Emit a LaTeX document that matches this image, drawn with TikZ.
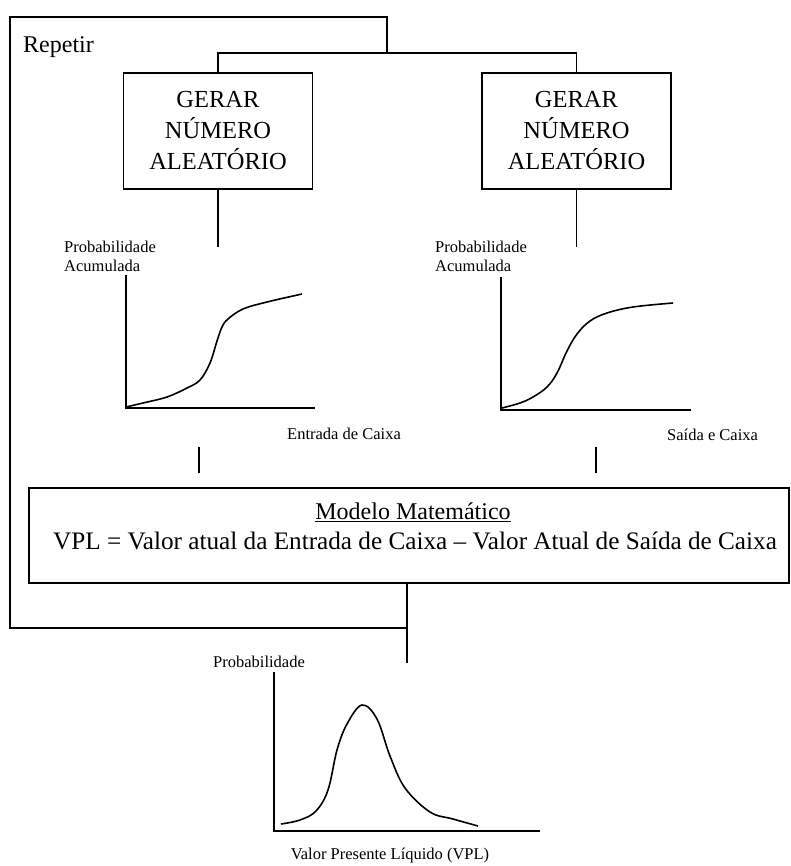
\documentclass[tikz,border=0pt]{standalone}
\usepackage{fontspec}
\setmainfont{Liberation Serif}
\usetikzlibrary{calc}
\tikzset{
  every picture/.append style={line join=miter},
  ln/.style={line width=1.2pt, draw=black},
  crv/.style={line width=1.6pt, draw=black, smooth, tension=0.6},
  gen/.style={rectangle, draw=black, line width=1.2pt, align=center,
              minimum width=189pt, minimum height=116pt, inner sep=0pt,
              font=\fontsize{24.5}{31}\selectfont},
  mbox/.style={rectangle, draw=black, line width=1.2pt,
               minimum width=760pt, minimum height=95pt, inner sep=0pt},
  big/.style={font=\fontsize{24}{28}\selectfont, align=center, inner sep=0pt},
  lbl/.style={font=\fontsize{16.5}{19}\selectfont, align=left, inner sep=0pt},
}
\begin{document}
\begin{tikzpicture}[x=1pt,y=-1pt]
\useasboundingbox (0,0) rectangle (791,866);

% ---------------- random number generators ----------------
\node[gen] (gen1) at (218,131) {GERAR\\NÚMERO\\ALEATÓRIO};
\node[gen] (gen2) at (576.5,131) {GERAR\\NÚMERO\\ALEATÓRIO};
\node[big, anchor=west] (rep) at (23,47) {Repetir};

% ---------------- cumulative distributions ----------------
\coordinate (in1) at (218,247);
\coordinate (in2) at (576.5,247);
\draw[ln] (gen1.south) -- (in1);
\draw[ln] (gen2.south) -- (in2);

\coordinate (o1) at (126,408);
\draw[ln] (126,275) -- (o1) -- (315,408);
\node[lbl, anchor=north west] (p1) at (64,241) {Probabilidade\\Acumulada};
\draw[crv] plot coordinates {(126,407) (143,403) (167,397) (187,388) (200,380)
  (210,363) (217,341) (222,327) (228,319) (243,309) (267,302) (302,294)};
\node[lbl, anchor=west] (x1) at (287,434) {Entrada de Caixa};

\coordinate (o2) at (501,410);
\draw[ln] (501,277) -- (o2) -- (691,410);
\node[lbl, anchor=north west] (p2) at (435,241) {Probabilidade\\Acumulada};
\draw[crv] plot coordinates {(502,408) (520,403) (533,397) (547,387) (557,373)
  (567,351) (577,334) (590,321) (607,313) (633,307) (673,303)};
\node[lbl, anchor=west] (x2) at (667,435) {Saída e Caixa};

% ---------------- mathematical model ----------------------
\node[mbox] (model) at (409,535.5) {};
\node[big] (mtxt) at (413,512) {\underline{Modelo Matemático}};
\node[big, font=\fontsize{25.2}{28}\selectfont] (vpl) at (415,541)
  {VPL = Valor atual da Entrada de Caixa -- Valor Atual de Saída de Caixa};
\coordinate (t1a) at (199,447); \coordinate (t1b) at (199,473);
\coordinate (t2a) at (596,447); \coordinate (t2b) at (596,473);
\draw[ln] (t1a) -- (t1b);
\draw[ln] (t2a) -- (t2b);

% ---------------- repeat loop -----------------------------
\coordinate (fork) at (387,53);
\coordinate (corner) at (10,17);
\coordinate (loopin) at (407,628);
\coordinate (vpltop) at (407,663);
\draw[ln] (gen1.north) |- (fork) -| (gen2.north);
\draw[ln] (407,583) -- (vpltop);
\draw[ln] (loopin) -| (corner) -| (fork);

% ---------------- NPV distribution ------------------------
\node[lbl, anchor=west] (p3) at (213,662) {Probabilidade};
\coordinate (o3) at (274,831);
\draw[ln] (274,672) -- (o3) -- (540,831);
\draw[crv] plot coordinates {(281,824) (300,820) (316,811) (328,790) (337,750)
  (347,724) (362,705) (377,719) (390,756) (405,788) (430,812) (453,819) (478,826)};
\node[lbl, anchor=center] (x3) at (390,856) {Valor Presente Líquido (VPL)};

\end{tikzpicture}
\end{document}
